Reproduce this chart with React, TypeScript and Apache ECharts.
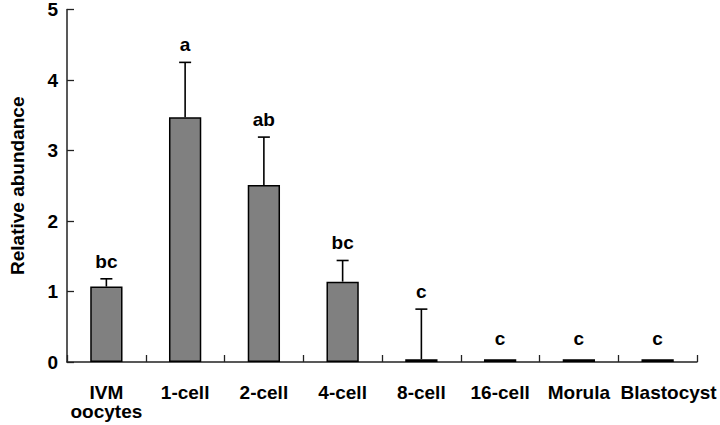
import React, { useEffect, useRef } from "react";
import * as echarts from "echarts";

const categories = ["IVM\noocytes", "1-cell", "2-cell", "4-cell", "8-cell", "16-cell", "Morula", "Blastocyst"];
const means = [1.07, 3.47, 2.51, 1.14, 0.04, 0.04, 0.04, 0.04];
const errorTops = [1.18, 4.25, 3.19, 1.44, 0.75, 0.04, 0.04, 0.04];
const letters = ["bc", "a", "ab", "bc", "c", "c", "c", "c"];
const yTicks = [0, 1, 2, 3, 4, 5];

const FONT = '"Liberation Sans", Arial, Helvetica, sans-serif';

export default function App() {
  const ref = useRef<HTMLDivElement>(null);
  useEffect(() => {
    if (!ref.current) return;
    const chart = echarts.init(ref.current, undefined, { renderer: "svg" });
    const errData = means.map((m, i) => [i, m, errorTops[i]]);
    const labelStyle = {
      color: "#000",
      fontWeight: "bold",
      fontSize: 19,
      lineHeight: 19,
      fontFamily: FONT,
    };
    chart.setOption({
      animation: false,
      backgroundColor: "#fff",
      grid: { left: 54, right: 23, top: 9.5, bottom: 63 },
      xAxis: {
        type: "category",
        data: categories,
        axisLine: { show: true, lineStyle: { color: "#222", width: 1.5 } },
        axisTick: { show: true, inside: true, length: 7, alignWithLabel: false, lineStyle: { color: "#222", width: 1.3 } },
        axisLabel: {
          interval: 0,
          margin: 21,
          ...labelStyle,
          formatter: (v: string, idx: number) =>
            idx === categories.length - 1 ? "{shift|" + v + "}" : v,
          rich: {
            shift: { ...labelStyle, padding: [0, 0, 0, 22] },
          },
        },
        splitLine: { show: false },
      },
      yAxis: {
        type: "value",
        min: yTicks[0],
        max: yTicks[yTicks.length - 1],
        interval: 1,
        name: "Relative abundance",
        nameLocation: "middle",
        nameRotate: 90,
        nameGap: 40,
        nameTextStyle: { color: "#000", fontWeight: "bold", fontSize: 19, fontFamily: FONT },
        axisLine: { show: true, lineStyle: { color: "#222", width: 1.5 } },
        axisTick: { show: true, inside: true, length: 7, lineStyle: { color: "#222", width: 1.3 } },
        axisLabel: { color: "#000", fontWeight: "bold", fontSize: 19, fontFamily: FONT, margin: 9 },
        splitLine: { show: false },
      },
      series: [
        {
          type: "bar",
          data: means,
          barWidth: "41%",
          itemStyle: { color: "#808080", borderColor: "#000", borderWidth: 1.5 },
          z: 2,
        },
        {
          type: "custom",
          data: errData,
          encode: { x: 0, y: [1, 2] },
          z: 3,
          renderItem: (params: any, api: any) => {
            const i = api.value(0);
            const m = api.value(1);
            const t = api.value(2);
            const base = api.coord([i, m]);
            const top = api.coord([i, t]);
            const children: any[] = [];
            if (t > m) {
              children.push({
                type: "line",
                shape: { x1: base[0], y1: base[1], x2: top[0], y2: top[1] },
                style: { stroke: "#000", lineWidth: 1.6 },
              });
              children.push({
                type: "line",
                shape: { x1: top[0] - 6, y1: top[1], x2: top[0] + 6, y2: top[1] },
                style: { stroke: "#000", lineWidth: 1.6 },
              });
            }
            children.push({
              type: "text",
              style: {
                text: letters[params.dataIndex],
                x: top[0],
                y: top[1] - (t > m ? 8 : 11),
                fill: "#000",
                fontSize: 19,
                fontWeight: "bold",
                fontFamily: FONT,
                align: "center",
                verticalAlign: "bottom",
              },
            });
            return { type: "group", children };
          },
        },
      ],
    });
    return () => chart.dispose();
  }, []);
  return (
    <div
      ref={ref}
      style={{ position: "fixed", left: 0, top: 0, width: 720, height: 425, background: "#fff" }}
    />
  );
}
